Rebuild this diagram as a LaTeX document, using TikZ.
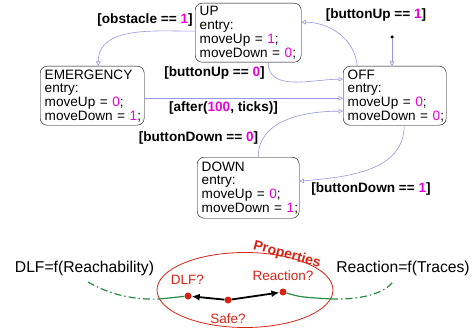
\documentclass[tikz,border=0pt]{standalone}
\usepackage{fontspec}
\setmainfont{Liberation Sans}
\usetikzlibrary{arrows.meta}
\definecolor{numpink}{RGB}{235,0,215}
\definecolor{translav}{RGB}{150,150,225}
\definecolor{propred}{RGB}{215,35,20}
\definecolor{tracegreen}{RGB}{40,140,70}
\newcommand\nm[1]{\textcolor{numpink}{#1}}

\begin{document}
\begin{tikzpicture}[x=1pt, y=-1pt,
    statebox/.style={draw, rounded corners=7pt, anchor=north west, align=left, inner xsep=4.5pt, inner ysep=0pt, minimum height=59pt, font=\fontsize{13.6pt}{13.7pt}\selectfont},
    guard/.style={inner sep=0pt, font=\bfseries\fontsize{13.6pt}{13.6pt}\selectfont},
    trans/.style={draw=translav, line width=0.6pt, -{Triangle[open,length=4.5pt,width=4.5pt]}},
    quest/.style={inner sep=0pt, text=propred, font=\fontsize{13.5pt}{13.5pt}\selectfont},
    reddot/.style={circle, fill=propred, inner sep=0pt, minimum size=7pt},
    trace/.style={tracegreen, line width=1.2pt},
    dashdot/.style={dash pattern=on 7pt off 3pt on 1.5pt off 3pt}]
    \useasboundingbox (0,0) rectangle (474,329);

    \node[statebox, text width=97pt] (up) at (195,3) {UP\\entry:\\moveUp~=~\nm{1};\\moveDown~=~\nm{0};};
    \node[statebox, text width=95pt] (emergency) at (40,66) {EMERGENCY\\entry:\\moveUp~=~\nm{0};\\moveDown~=~\nm{1};};
    \node[statebox, text width=94pt] (off) at (343,66) {OFF\\entry:\\moveUp~=~\nm{0};\\moveDown~=~\nm{0};};
    \node[statebox, text width=93pt, minimum height=61pt] (down) at (197,157) {DOWN\\entry:\\moveUp~=~\nm{0};\\moveDown~=~\nm{1};};
    \node[circle, fill, inner sep=0pt, minimum size=3.5pt] (init) at (392,37) {};

    \draw[trans] (init) -- (init |- off.north);
    \draw[trans] ([yshift=1.5pt]up.west) to[out=180,in=90] ([xshift=6pt]emergency.north);
    \draw[trans] ([xshift=-37.5pt]off.north) to[out=95,in=0] ([yshift=10.5pt]up.east);
    \draw[trans] ([xshift=20pt]up.south) to[out=-90,in=180] ([yshift=16.5pt]off.west);
    \draw[trans] ([yshift=-2.5pt]emergency.east) -- ([yshift=-2.5pt]off.west);
    \draw[trans] ([xshift=10pt]down.north) to[out=90,in=180] ([yshift=-15.5pt]off.west);
    \draw[trans] ([xshift=9.5pt]off.south) to[out=-90,in=5] ([yshift=6.5pt]down.east);

    \node[guard] (gobst) at (145,20) {[obstacle == \nm{1}]};
    \node[guard] (gup1) at (376,15) {[buttonUp == \nm{1}]};
    \node[guard] (gup0) at (214.5,73) {[buttonUp == \nm{0}]};
    \node[guard] (gafter) at (223.5,108) {[after(\nm{100}, ticks)]};
    \node[guard] (gdown0) at (198.5,138) {[buttonDown == \nm{0}]};
    \node[guard] (gdown1) at (371,189) {[buttonDown == \nm{1}]};

    \node[inner sep=0pt, font=\fontsize{15.7pt}{15.7pt}\selectfont] (dlfreach) at (84.5,268) {DLF=f(Reachability)};
    \node[inner sep=0pt, font=\fontsize{15.7pt}{15.7pt}\selectfont] (reactr) at (403,268) {Reaction=f(Traces)};
    \draw[propred, line width=0.8pt] (245,290) ellipse [x radius=88pt, y radius=37.5pt];
    \node[inner sep=0pt, text=propred, rotate=-15, font=\bfseries\fontsize{14pt}{14pt}\selectfont] (props) at (287,255) {Properties};

    \coordinate (gl) at (88,282);
    \coordinate (gle) at (159,299);
    \coordinate (gre) at (331,299);
    \coordinate (gr) at (393,282);
    \node[reddot] (pdlf) at (188,296) {};
    \node[reddot] (psafe) at (228,300) {};
    \node[reddot] (preac) at (283,292) {};
    \draw[trace, dashdot] (gl) .. controls (110,295) and (135,300) .. (gle);
    \draw[trace] (gle) -- (pdlf);
    \draw[trace] (preac) .. controls (300,297) .. (gre);
    \draw[trace, dashdot] (gre) .. controls (365,300) and (385,292) .. (gr);
    \draw[line width=1.8pt, -{Latex[length=8pt,width=7pt]}] (psafe) -- (pdlf);
    \draw[line width=1.8pt, -{Latex[length=8pt,width=7pt]}] (psafe) -- (preac);

    \node[quest] (qdlf) at (187.5,280) {DLF?};
    \node[quest] (qreac) at (283,276) {Reaction?};
    \node[quest] (qsafe) at (228,319) {Safe?};
\end{tikzpicture}
\end{document}
